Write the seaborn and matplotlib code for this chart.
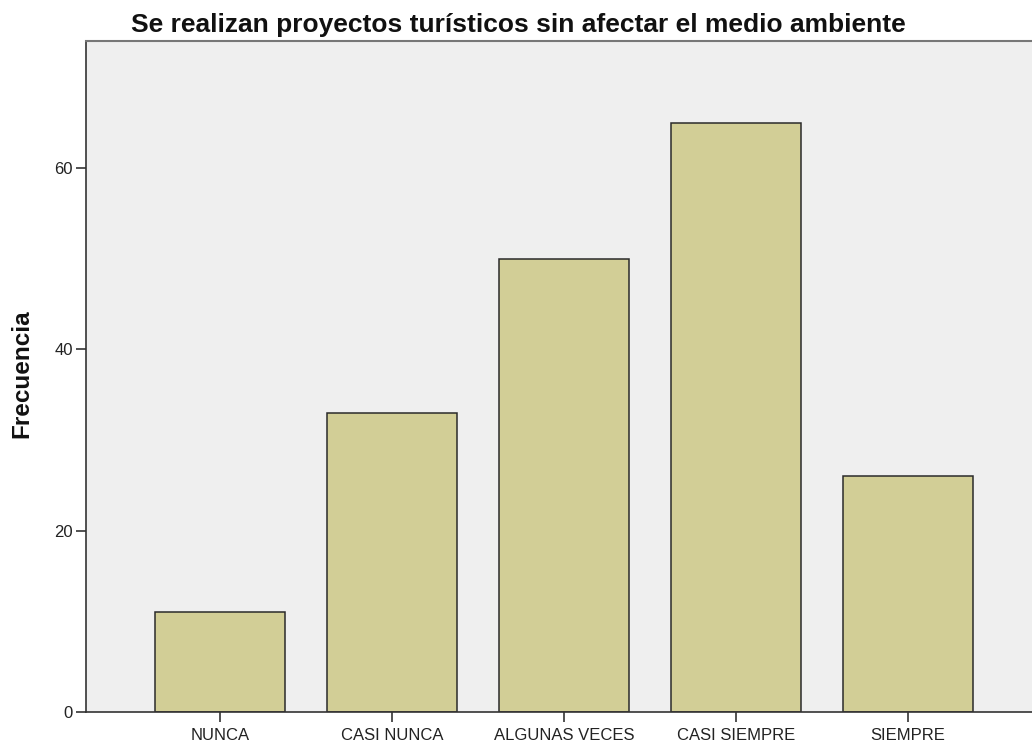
import matplotlib
matplotlib.use("Agg")
import matplotlib.pyplot as plt
import seaborn as sns
import pandas as pd

# Datos
categorias = ["NUNCA", "CASI NUNCA", "ALGUNAS VECES", "CASI SIEMPRE", "SIEMPRE"]
frecuencias = [11, 33, 50, 65, 26]
ticks_y = [0, 20, 40, 60]

df = pd.DataFrame({"categoria": categorias, "frecuencia": frecuencias})

sns.set_style("white")
plt.rcParams["font.family"] = ["Liberation Sans", "DejaVu Sans"]

fig = plt.figure(figsize=(10.32, 7.47), dpi=100)
ax = fig.add_axes([86 / 1032, 35 / 747, 956 / 1032, 671 / 747])
ax.set_facecolor("#efefef")

sns.barplot(data=df, x="categoria", y="frecuencia", color="#d2ce96",
            saturation=1, width=0.756, edgecolor="#2a2a2a", linewidth=1.1, ax=ax)

ax.set_xlim(-0.78, 4.78)
ax.set_ylim(0, 74)
ax.set_yticks(ticks_y)
ax.set_xlabel("")
ax.set_ylabel("Frecuencia", fontsize=17.5, fontweight="bold", color="#111111")
ax.yaxis.set_label_coords(-0.0554, 0.504)
ax.tick_params(axis="y", pad=2)
ax.tick_params(axis="x", pad=4)
ax.tick_params(axis="both", direction="out", length=7.5, width=1.2, color="#333333",
               labelsize=12, labelcolor="#222222", bottom=True, left=True)

for side in ["left", "bottom"]:
    ax.spines[side].set_color("#333333")
    ax.spines[side].set_linewidth(1.2)
ax.spines["top"].set_color("#777777")
ax.spines["top"].set_linewidth(1.5)
ax.spines["right"].set_visible(False)

fig.text(518 / 1032, 1 - 32 / 747, "Se realizan proyectos turísticos sin afectar el medio ambiente",
         ha="center", va="baseline", fontsize=19, fontweight="bold", color="#111111")

fig.savefig("out.png", dpi=100)
